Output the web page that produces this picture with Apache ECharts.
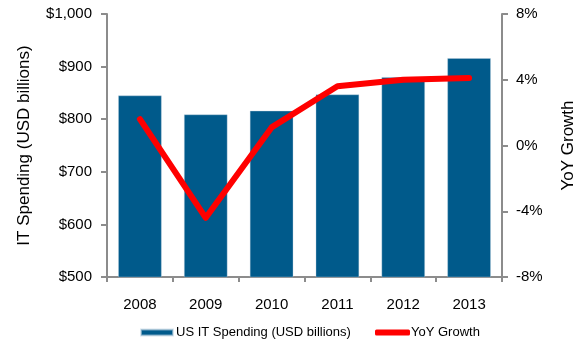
<!DOCTYPE html>
<html>
<head>
<meta charset="utf-8">
<script src="https://cdn.jsdelivr.net/npm/echarts@6/dist/echarts.min.js"></script>
<style>
  html, body { margin: 0; padding: 0; background: #fff; }
  #chart { width: 585px; height: 341px; }
</style>
</head>
<body>
<div id="chart"></div>
<script>
// Years on the category axis
const years = ['2008', '2009', '2010', '2011', '2012', '2013'];
// US IT spending, USD billions
const spending = [845, 809, 816, 847, 880, 916];
// Year-over-year growth, percent
const growth = [1.6, -4.4, 1.1, 3.6, 4.0, 4.1];

const spendName = 'US IT Spending (USD billions)';
const growthName = 'YoY Growth';
const font = 'Arial, "Liberation Sans", sans-serif';
const axisGray = '#8c8c8c';

const chart = echarts.init(document.getElementById('chart'), null, { renderer: 'canvas' });

chart.setOption({
  animation: false,
  grid: { left: 107, right: 83, top: 14, bottom: 64, containLabel: false },
  legend: [
    {
      left: 140, top: 326, padding: 0,
      icon: 'rect', itemWidth: 32, itemHeight: 6, itemGap: 4,
      textStyle: { fontFamily: font, fontSize: 13, color: '#000', padding: [0, 0, 0, -2] },
      data: [spendName]
    },
    {
      left: 375, top: 326, padding: 0,
      icon: 'roundRect', itemWidth: 35, itemHeight: 6,
      textStyle: { fontFamily: font, fontSize: 13, color: '#000', padding: [0, 0, 0, -4] },
      data: [growthName]
    }
  ],
  xAxis: {
    type: 'category',
    data: years,
    boundaryGap: true,
    axisLine: { onZero: false, lineStyle: { color: axisGray, width: 2 } },
    axisTick: { show: true, length: 5, alignWithLabel: false, lineStyle: { color: axisGray, width: 2 } },
    axisLabel: { fontFamily: font, fontSize: 15, color: '#000', margin: 20 }
  },
  yAxis: [
    {
      type: 'value',
      min: 500, max: 1000, interval: 100,
      name: 'IT Spending (USD billions)',
      nameLocation: 'middle',
      nameGap: 74,
      nameTextStyle: { fontFamily: font, fontSize: 17, color: '#000' },
      axisLine: { show: true, lineStyle: { color: axisGray, width: 2 } },
      axisTick: { show: true, length: 6, lineStyle: { color: axisGray, width: 2 } },
      splitLine: { show: false },
      axisLabel: {
        fontFamily: font, fontSize: 15, color: '#000', margin: 15,
        formatter: v => '$' + v.toLocaleString('en-US')
      }
    },
    {
      type: 'value',
      min: -8, max: 8, interval: 4,
      position: 'right',
      name: 'YoY Growth',
      nameLocation: 'middle',
      nameGap: 58,
      nameRotate: 90,
      nameTextStyle: { fontFamily: font, fontSize: 17, color: '#000' },
      axisLine: { show: true, lineStyle: { color: axisGray, width: 2 } },
      axisTick: { show: true, length: 6, lineStyle: { color: axisGray, width: 2 } },
      splitLine: { show: false },
      axisLabel: {
        fontFamily: font, fontSize: 15, color: '#000', margin: 14,
        formatter: v => v + '%'
      }
    }
  ],
  series: [
    {
      name: spendName,
      type: 'bar',
      data: spending,
      barWidth: '66%',
      itemStyle: { color: '#005a8b', borderColor: 'rgba(190,210,225,0.6)', borderWidth: 0.6 }
    },
    {
      name: growthName,
      type: 'line',
      yAxisIndex: 1,
      data: growth,
      symbol: 'none',
      lineStyle: { color: '#ff0000', width: 6, cap: 'round', join: 'round' },
      itemStyle: { color: '#ff0000' },
      z: 5
    }
  ]
});
</script>
</body>
</html>
